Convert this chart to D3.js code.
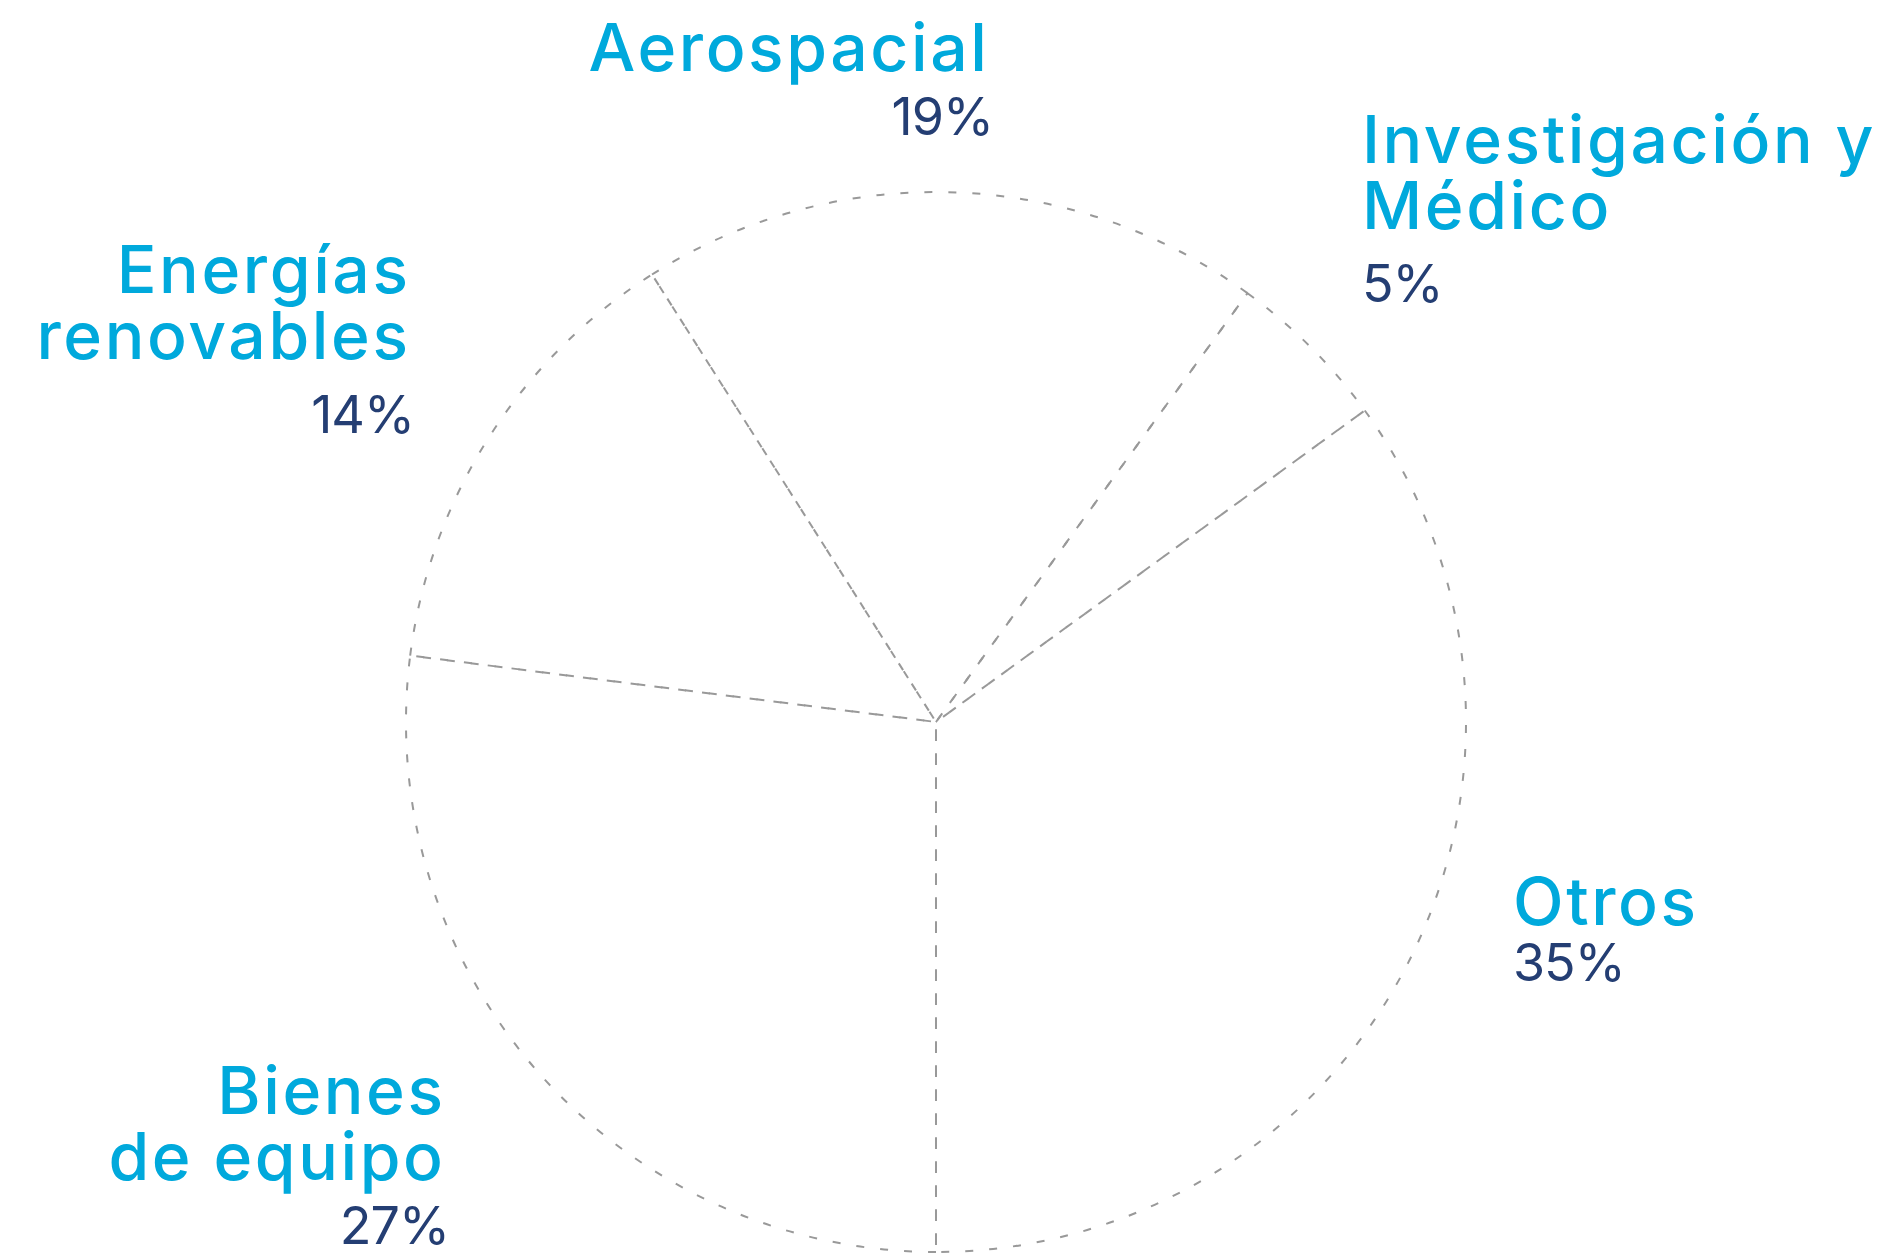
<!DOCTYPE html>
<html><head><meta charset="utf-8">
<script src="https://cdn.jsdelivr.net/npm/d3@7"></script>
<style>
html,body{margin:0;padding:0;background:#fff;}
svg{display:block;}
text{font-family:Inter, "Noto Sans", sans-serif;}
</style></head>
<body>
<script>
// Data
const categories = ["Bienes de equipo", "Energías renovables", "Aerospacial", "Investigación y Médico", "Otros"];
const values = [27, 14, 19, 5, 35];
const labelLines = [["Bienes", "de equipo"], ["Energías", "renovables"], ["Aerospacial"], ["Investigación y", "Médico"], ["Otros"]];

// Layout (not data)
const W = 1880, H = 1253;
const cx = 936, cy = 722, R = 530;
const labelLayout = [
  {x: 443, y: 1114, anchor: "end", pctY: 1244},
  {x: 408, y: 293, anchor: "end", pctY: 433},
  {x: 987, y: 71, anchor: "end", pctY: 135},
  {x: 1362, y: 163, anchor: "start", pctY: 302},
  {x: 1513, y: 925, anchor: "start", pctY: 981}
];
const lineH = 66;
const ls = 2.6;
const cyan = "#00a9dc", navy = "#243e73";

const svg = d3.select("body").append("svg").attr("width", W).attr("height", H);

const pie = d3.pie().sort(null).startAngle(Math.PI).endAngle(3 * Math.PI);
const arcs = pie(values);
const arc = d3.arc().innerRadius(0).outerRadius(R);

const g = svg.append("g").attr("transform", `translate(${cx},${cy})`);
g.selectAll("path").data(arcs).join("path")
  .attr("d", arc)
  .attr("fill", "none")
  .attr("stroke", "#999999")
  .attr("stroke-width", 2)
  .attr("stroke-dasharray", "8,16");

const fmt = d => d + "%";
const lab = svg.append("g");
arcs.forEach((a, i) => {
  const L = labelLayout[i];
  const lx = L.anchor === "end" ? L.x + ls : L.x;
  const t = lab.append("text")
    .attr("x", lx).attr("y", L.y)
    .attr("text-anchor", L.anchor)
    .attr("fill", cyan)
    .attr("font-size", 66)
    .attr("letter-spacing", ls)
    .attr("font-weight", 500);
  labelLines[i].forEach((ln, j) => {
    t.append("tspan").attr("x", lx).attr("y", L.y + j * lineH).text(ln);
  });
  lab.append("text")
    .attr("x", L.anchor === "end" ? L.x + 6 : L.x).attr("y", L.pctY)
    .attr("text-anchor", L.anchor)
    .attr("fill", navy)
    .attr("font-size", 52)
    .attr("letter-spacing", -1)
    .attr("font-weight", 400)
    .text(fmt(a.data));
});
</script>
</body></html>
